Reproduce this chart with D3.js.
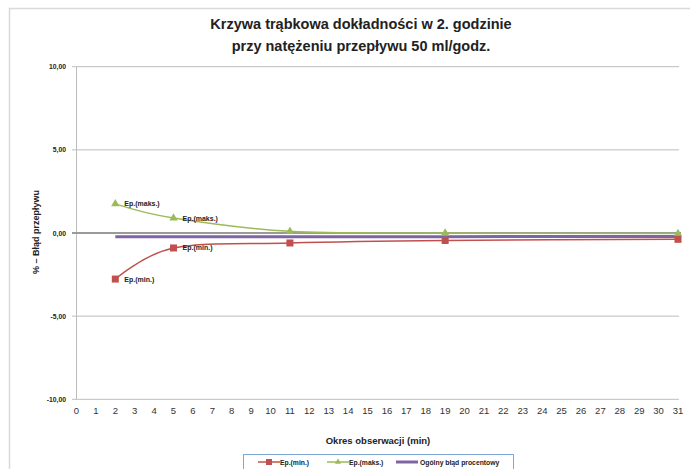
<!DOCTYPE html>
<html><head><meta charset="utf-8">
<script src="https://cdn.jsdelivr.net/npm/d3@7"></script>
<style>body{margin:0;background:#fff}svg{display:block}</style>
</head><body>
<svg id="c" width="690" height="469"></svg>
<script>
const xValues = [2, 5, 11, 19, 31];
const epMin = [-2.77, -0.9, -0.6, -0.45, -0.38];
const epMax = [1.75, 0.9, 0.1, 0.0, -0.03];
const overall = [-0.23, -0.23, -0.23, -0.22, -0.21];
const xTicks = d3.range(0, 32);
const yTicks = [-10, -5, 0, 5, 10];
const seriesNames = ["Ep.(min.)", "Ep.(maks.)", "Ogólny błąd procentowy"];
const titleLines = ["Krzywa trąbkowa dokładności w 2. godzinie", "przy natężeniu przepływu 50 ml/godz."];

const svg = d3.select("#c");
const font = "'Liberation Sans', Arial, sans-serif";
const red = "#C0504D", green = "#9BBB59", purple = "#8064A2";

svg.append("rect").attr("x", 9.5).attr("y", 8.5).attr("width", 720).attr("height", 520)
  .attr("fill", "#fff").attr("stroke", "#d9d9d9").attr("stroke-width", 1.5);

const x = d3.scaleLinear().domain([0, 31]).range([76.5, 678]);
const y = d3.scaleLinear().domain([-10, 10]).range([399.3, 66.7]);

// title
svg.selectAll(".title").data(titleLines).join("text")
  .attr("x", 361).attr("y", (d, i) => 29 + i * 22)
  .attr("text-anchor", "middle").attr("font-family", font)
  .attr("font-weight", "bold").attr("font-size", 14.5).attr("fill", "#222").text(d => d);

// gridlines
svg.append("g").selectAll("line").data(yTicks.filter(d => d !== 0)).join("line")
  .attr("x1", 72).attr("x2", 679).attr("y1", d => y(d)).attr("y2", d => y(d))
  .attr("stroke", "#bdbdbd").attr("stroke-width", 1);

// y axis line
svg.append("line").attr("x1", x(0)).attr("x2", x(0)).attr("y1", y(10)).attr("y2", y(-10))
  .attr("stroke", "#bdbdbd").attr("stroke-width", 1);

// zero line
svg.append("line").attr("x1", 72).attr("x2", 681).attr("y1", y(0)).attr("y2", y(0))
  .attr("stroke", "#9a9a9a").attr("stroke-width", 2);

// y tick labels
svg.append("g").selectAll("text").data(yTicks).join("text")
  .attr("x", 66).attr("y", d => y(d) + 2.5).attr("text-anchor", "end")
  .attr("font-family", font).attr("font-weight", "bold").attr("font-size", 6.8).attr("fill", "#222")
  .text(d => d3.format(".2f")(d).replace(".", ",").replace("−", "-"));

// x tick labels
svg.append("g").selectAll("text").data(xTicks).join("text")
  .attr("x", d => x(d)).attr("y", 414).attr("text-anchor", "middle")
  .attr("font-family", font).attr("font-size", 9.5).attr("fill", "#333").text(d => d);

// axis titles
svg.append("text").attr("x", 378).attr("y", 444).attr("text-anchor", "middle")
  .attr("font-family", font).attr("font-weight", "bold").attr("font-size", 9.5).attr("fill", "#222")
  .text("Okres obserwacji (min)");
svg.append("text").attr("transform", "translate(39,232) rotate(-90)").attr("text-anchor", "middle")
  .attr("font-family", font).attr("font-weight", "bold").attr("font-size", 9).attr("fill", "#222")
  .text("% – Błąd przepływu");

const line = d3.line().x(d => x(d[0])).y(d => y(d[1])).curve(d3.curveCardinal.tension(0));
const pts = arr => xValues.map((v, i) => [v, arr[i]]);

// overall
svg.append("path").attr("d", line(pts(overall))).attr("fill", "none")
  .attr("stroke", purple).attr("stroke-width", 3);
// max
svg.append("path").attr("d", line(pts(epMax))).attr("fill", "none")
  .attr("stroke", green).attr("stroke-width", 1.5);
// min
svg.append("path").attr("d", line(pts(epMin))).attr("fill", "none")
  .attr("stroke", red).attr("stroke-width", 1.5);

const tri = d3.symbol().type(d3.symbolTriangle).size(30);
svg.append("g").selectAll("path").data(pts(epMax)).join("path")
  .attr("transform", d => `translate(${x(d[0])},${y(d[1])})`).attr("d", tri).attr("fill", green);
svg.append("g").selectAll("rect").data(pts(epMin)).join("rect")
  .attr("x", d => x(d[0]) - 3.5).attr("y", d => y(d[1]) - 3.5).attr("width", 7).attr("height", 7).attr("fill", red);

// data labels (first two points)
const lbl = (arr, name, dy) => svg.append("g").selectAll("text").data(pts(arr).slice(0, 2)).join("text")
  .attr("x", d => x(d[0]) + 9).attr("y", d => y(d[1]) + dy)
  .attr("font-family", font).attr("font-weight", "bold").attr("font-size", 7).attr("fill", "#222").text(name);
lbl(epMax, seriesNames[1], 2.5);
lbl(epMin, seriesNames[0], 2.5);

// legend
const lg = svg.append("g");
lg.append("rect").attr("x", 243.5).attr("y", 454.5).attr("width", 270).attr("height", 20)
  .attr("fill", "#fff").attr("stroke", "#7fa7d6").attr("stroke-width", 1);
const items = [
  {name: seriesNames[0], color: red, x0: 258, tx: 280, w: 1.5, mark: "sq"},
  {name: seriesNames[1], color: green, x0: 327, tx: 349, w: 1.5, mark: "tri"},
  {name: seriesNames[2], color: purple, x0: 396, tx: 420, w: 3, mark: null}
];
items.forEach(it => {
  lg.append("line").attr("x1", it.x0).attr("x2", it.x0 + 22).attr("y1", 462).attr("y2", 462)
    .attr("stroke", it.color).attr("stroke-width", it.w);
  if (it.mark === "sq") lg.append("rect").attr("x", it.x0 + 8).attr("y", 459).attr("width", 6).attr("height", 6).attr("fill", it.color);
  if (it.mark === "tri") lg.append("path").attr("transform", `translate(${it.x0 + 11},462)`)
    .attr("d", d3.symbol().type(d3.symbolTriangle).size(16)).attr("fill", it.color);
  lg.append("text").attr("x", it.tx).attr("y", 464.5).attr("font-family", font).attr("font-weight", "bold")
    .attr("font-size", 6.8).attr("fill", "#222").text(it.name);
});
</script>
</body></html>
